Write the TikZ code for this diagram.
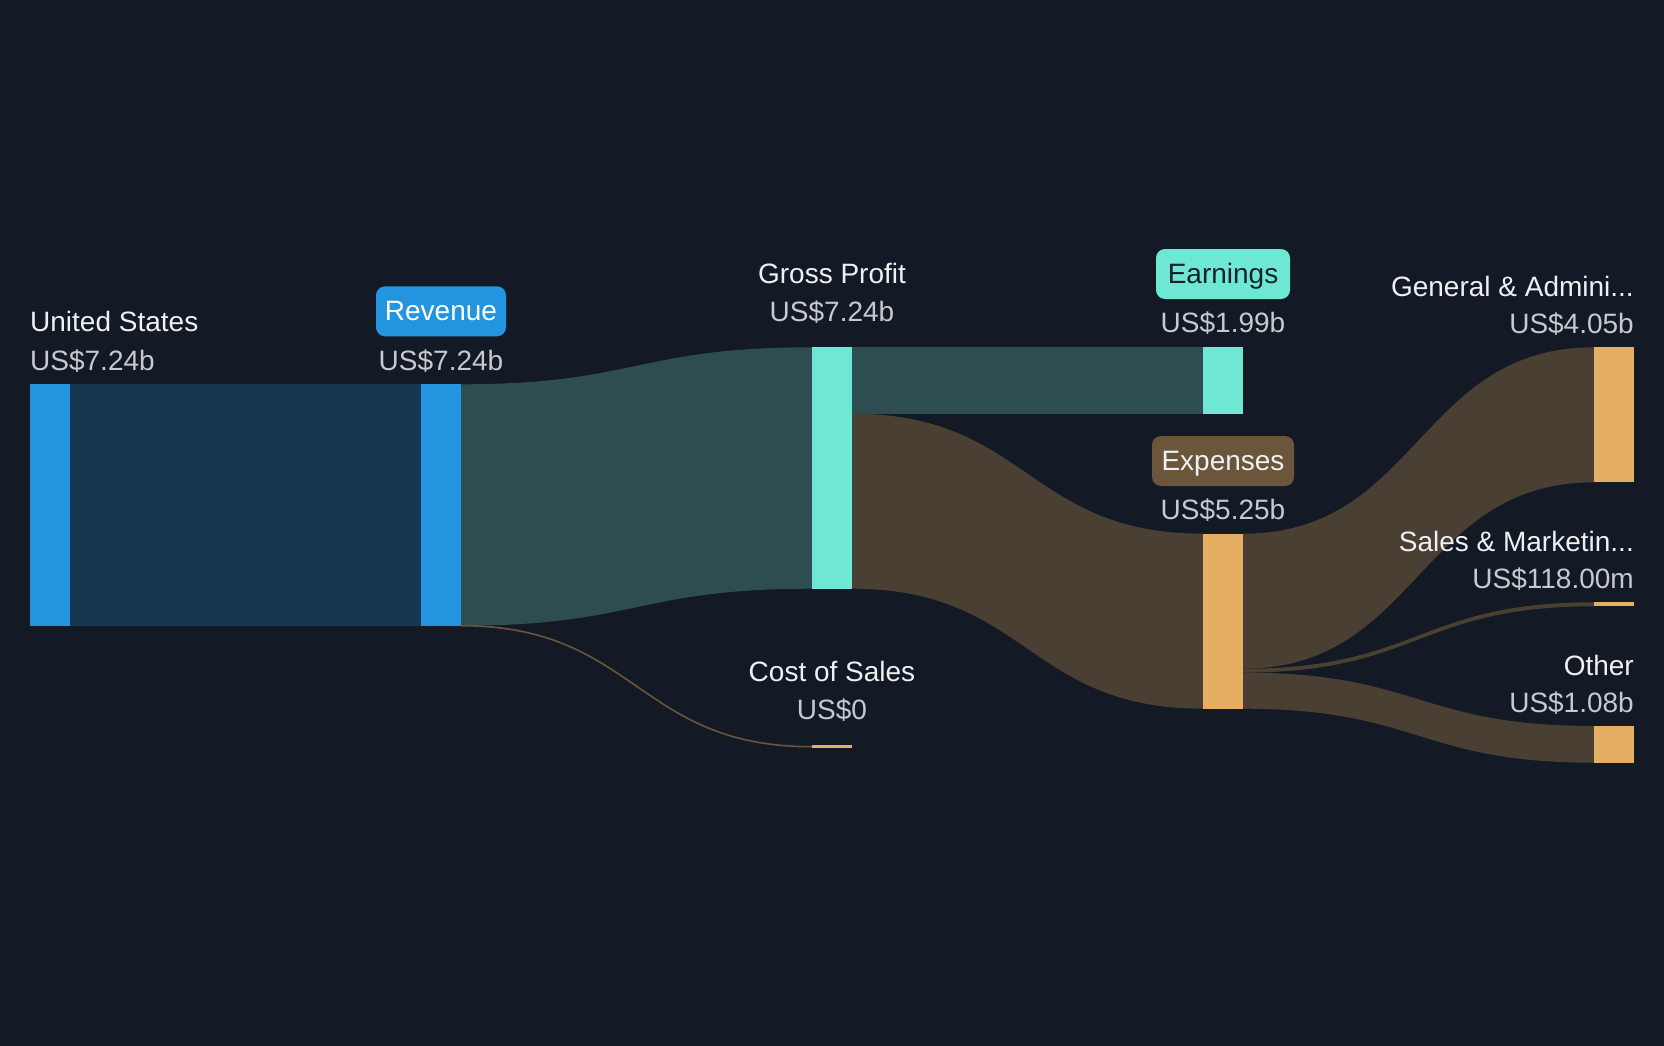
\documentclass[tikz,border=0pt]{standalone}
\usepackage{fontspec}
\setmainfont{Liberation Sans}
\definecolor{bg}{HTML}{141A25}
\definecolor{bluebar}{HTML}{2394DF}
\definecolor{uslink}{HTML}{173652}
\definecolor{teallink}{HTML}{2D4D50}
\definecolor{tealbar}{HTML}{6EE7D4}
\definecolor{brownlink}{HTML}{4A3F33}
\definecolor{tanbar}{HTML}{E4AF62}
\definecolor{expbox}{HTML}{6B563C}
\definecolor{namecol}{HTML}{EEF0F2}
\definecolor{valcol}{HTML}{C6C9CE}
\definecolor{darktext}{HTML}{17222C}
\begin{document}
\begin{tikzpicture}[x=1pt,y=-1pt,
  bar/.style={rectangle,inner sep=0pt,outer sep=0pt,minimum width=40pt,anchor=north west,draw=none},
  lbl/.style={inner sep=0pt,text=namecol,font=\fontsize{28}{32}\selectfont},
  val/.style={inner sep=0pt,text=valcol,font=\fontsize{28}{32}\selectfont},
  tagbox/.style={rectangle,rounded corners=9pt,inner sep=0pt,minimum height=50pt,text height=20pt,text depth=2pt,font=\fontsize{28}{32}\selectfont}]
\fill[bg] (0,0) rectangle (1664,1046);
\useasboundingbox (0,0) rectangle (1664,1046);
% links
\fill[uslink] (70,384.3) rectangle (421,625.7);
\fill[teallink] (461,384.3) .. controls (636.5,384.3) and (636.5,347.3) .. (812,347.3) -- (812,588.7) .. controls (636.5,588.7) and (636.5,625.7) .. (461,625.7) -- cycle;
\draw[brownlink!80!tanbar,line width=1.6pt] (461,625.7) .. controls (636.5,625.7) and (636.5,746.7) .. (812,746.7);
\fill[teallink] (852,347.3) rectangle (1203,413.7);
\fill[brownlink] (852,413.7) .. controls (1027.5,413.7) and (1027.5,533.7) .. (1203,533.7) -- (1203,708.7) .. controls (1027.5,708.7) and (1027.5,588.7) .. (852,588.7) -- cycle;
\fill[brownlink] (1243,533.7) .. controls (1418.5,533.7) and (1418.5,347.3) .. (1594,347.3) -- (1594,482.3) .. controls (1418.5,482.3) and (1418.5,668.7) .. (1243,668.7) -- cycle;
\fill[brownlink] (1243,668.7) .. controls (1418.5,668.7) and (1418.5,602.3) .. (1594,602.3) -- (1594,606.3) .. controls (1418.5,606.3) and (1418.5,672.6) .. (1243,672.6) -- cycle;
\fill[brownlink] (1243,672.6) .. controls (1418.5,672.6) and (1418.5,726) .. (1594,726) -- (1594,762.7) .. controls (1418.5,762.7) and (1418.5,708.7) .. (1243,708.7) -- cycle;
% bars
\node[bar,fill=bluebar,minimum height=241.4pt] (us) at (30,384.3) {};
\node[bar,fill=bluebar,minimum height=241.4pt] (rev) at (421,384.3) {};
\node[bar,fill=tealbar,minimum height=241.4pt] (gp) at (812,347.3) {};
\node[bar,fill=tanbar,minimum height=2.6pt] (cos) at (812,745.4) {};
\node[bar,fill=tealbar,minimum height=66.4pt] (earn) at (1203,347.3) {};
\node[bar,fill=tanbar,minimum height=175pt] (exp) at (1203,533.7) {};
\node[bar,fill=tanbar,minimum height=135pt] (ga) at (1594,347.3) {};
\node[bar,fill=tanbar,minimum height=4pt] (sm) at (1594,602.3) {};
\node[bar,fill=tanbar,minimum height=36.7pt] (oth) at (1594,726) {};
% labels
\node[lbl,anchor=base west] (usname) at (30,331.7) {United States};
\node[val,anchor=base west] (usval) at (30,370) {US\$7.24b};
\node[tagbox,fill=bluebar,text=white,minimum width=130pt] (revbox) at (441,311.3) {Revenue};
\node[val,anchor=base] (revval) at (441,370) {US\$7.24b};
\node[lbl,anchor=base] (gpname) at (832,283) {Gross Profit};
\node[val,anchor=base] (gpval) at (832,321) {US\$7.24b};
\node[lbl,anchor=base] (cosname) at (832,681.7) {Cost of Sales};
\node[val,anchor=base] (cosval) at (832,719) {US\$0};
\node[tagbox,fill=tealbar,text=darktext,minimum width=134pt] (earnbox) at (1223,274) {Earnings};
\node[val,anchor=base] (earnval) at (1223,332) {US\$1.99b};
\node[tagbox,fill=expbox,text=namecol,minimum width=142pt] (expbox) at (1223,461) {Expenses};
\node[val,anchor=base] (expval) at (1223,519) {US\$5.25b};
\node[lbl,anchor=base east] (ganame) at (1634,296.3) {General \& Admini...};
\node[val,anchor=base east] (gaval) at (1634,333.8) {US\$4.05b};
\node[lbl,anchor=base east] (smname) at (1634,551.3) {Sales \& Marketin...};
\node[val,anchor=base east] (smval) at (1634,588.8) {US\$118.00m};
\node[lbl,anchor=base east] (othname) at (1634,675) {Other};
\node[val,anchor=base east] (othval) at (1634,712.5) {US\$1.08b};
\end{tikzpicture}
\end{document}
